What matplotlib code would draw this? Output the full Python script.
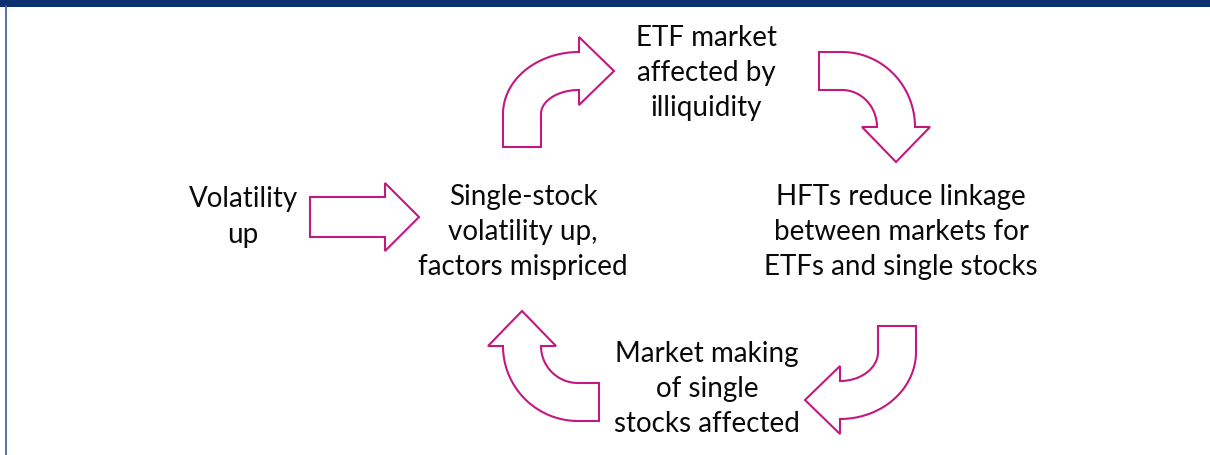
import matplotlib.pyplot as plt
from matplotlib.patches import Polygon, Rectangle
import numpy as np

# =============================
# DIAGRAM CONTENT
# =============================
node_labels = [
    "Volatility\nup",
    "Single-stock\nvolatility up,\nfactors mispriced",
    "ETF market\naffected by\nilliquidity",
    "HFTs reduce linkage\nbetween markets for\nETFs and single stocks",
    "Market making\nof single\nstocks affected",
]
node_x = [243, 523, 706, 901, 707]
node_y = [217, 232, 73, 232, 389]

# curved arrows: corner centre (px), rotation (deg), outer radii, tail length
arc_cx = [579, 842, 840, 578]
arc_cy = [115, 128, 353, 347]
arc_rot = [0, -90, 180, 90]
arc_Rx = [76, 75, 76, 75]
arc_Ry = [62, 73, 67, 75]
arc_tail = [33, 23, 26, 21]

MAGENTA = '#c2187f'
NAVY = '#0c3270'
W = 38      # shaft width
HW = 34     # half head width
HL = 35     # head length


def curved_arrow(cx, cy, rot, Rx, Ry, tail):
    rx, ry = Rx - W, Ry - W
    mid = Ry - W / 2
    t_out = np.linspace(np.pi, np.pi / 2, 40)
    t_in = np.linspace(np.pi / 2, np.pi, 40)
    pts = [(-Rx, -tail), (-Rx, 0)]
    pts += list(zip(Rx * np.cos(t_out), Ry * np.sin(t_out)))
    pts += [(0, mid + HW), (HL, mid), (0, mid - HW), (0, ry)]
    pts += list(zip(rx * np.cos(t_in), ry * np.sin(t_in)))
    pts += [(-rx, -tail)]
    pts = np.array(pts)
    a = np.radians(rot)
    px = cx + np.cos(a) * pts[:, 0] - np.sin(a) * pts[:, 1]
    py = cy - (np.sin(a) * pts[:, 0] + np.cos(a) * pts[:, 1])
    return np.column_stack([px, py])


fig = plt.figure(figsize=(12.1, 4.56), dpi=100)
ax = fig.add_axes([0, 0, 1, 1])
ax.set_xlim(0, 1210)
ax.set_ylim(456, 0)
ax.axis('off')

# frame
ax.add_patch(Rectangle((0, 0), 1210, 7.5, color=NAVY, lw=0))
ax.plot([6, 6], [7, 456], color='#3a5aa3', lw=1.2)

# straight arrow
straight = [(310, 198), (385, 198), (385, 184), (419, 218),
            (385, 252), (385, 238), (310, 238)]
ax.add_patch(Polygon(straight, closed=True, fill=False,
                     ec=MAGENTA, lw=1.5, joinstyle='miter'))

for cx, cy, rot, Rx, Ry, tail in zip(arc_cx, arc_cy, arc_rot, arc_Rx, arc_Ry, arc_tail):
    ax.add_patch(Polygon(curved_arrow(cx, cy, rot, Rx, Ry, tail), closed=True,
                         fill=False, ec=MAGENTA, lw=1.5, joinstyle='miter'))

for label, x, y in zip(node_labels, node_x, node_y):
    ax.text(x, y, label, ha='center', va='center', multialignment='center',
            fontsize=20, family='Lato', color='#0a0a0a', linespacing=1.44)

fig.savefig('out.png', dpi=100)
